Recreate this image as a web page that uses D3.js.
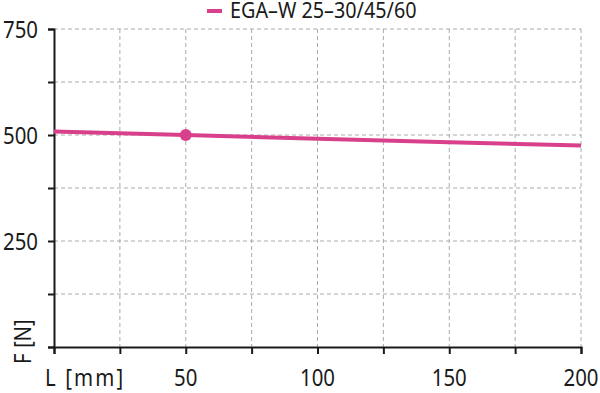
<!DOCTYPE html>
<html>
<head>
<meta charset="utf-8">
<script src="https://cdn.jsdelivr.net/npm/d3@7"></script>
<style>
  body { margin: 0; background: #fff; }
  svg { display: block; font-family: "Noto Sans", sans-serif; }
</style>
</head>
<body>
<svg width="600" height="393"></svg>
<script>
const lengths = [0, 50, 100, 150, 200];
const forces = [508, 500, 491, 483, 475];
const markerL = [50];
const markerF = [500];
const seriesName = "EGA\u2013W 25\u201330/45/60";
const xTicks = [0, 25, 50, 75, 100, 125, 150, 175, 200];
const yTicks = [0, 125, 250, 375, 500, 625, 750];
const xLabels = [50, 100, 150, 200];
const yLabels = [250, 500, 750];

const pink = "#d9408c";
const ink = "#1a1a1a";
const squeeze = 0.85;   // the original face is narrower than Noto Sans
const svg = d3.select("svg");

const xScale = d3.scaleLinear().domain([0, 200]).range([54, 581]);
const yScale = d3.scaleLinear().domain([0, 750]).range([347, 29]);

// dashed grid
const grid = svg.append("g");
grid.selectAll(".vg").data(xTicks.slice(1)).enter().append("line")
    .attr("x1", d => xScale(d)).attr("x2", d => xScale(d))
    .attr("y1", yScale(750)).attr("y2", yScale(0))
    .attr("stroke", "#aaa").attr("stroke-width", 1).attr("stroke-dasharray", "4,3");
grid.selectAll(".hg").data(yTicks.slice(1)).enter().append("line")
    .attr("x1", xScale(0)).attr("x2", xScale(200))
    .attr("y1", d => yScale(d)).attr("y2", d => yScale(d))
    .attr("stroke", "#aaa").attr("stroke-width", 1).attr("stroke-dasharray", "4,3");

// axes
const xAxis = svg.append("g")
    .attr("transform", `translate(0,${yScale(0)})`)
    .call(d3.axisBottom(xScale).tickValues(xTicks).tickSize(7).tickFormat(""));
const yAxis = svg.append("g")
    .attr("transform", `translate(${xScale(0)},0)`)
    .call(d3.axisLeft(yScale).tickValues(yTicks).tickSize(6).tickFormat(""));
[xAxis, yAxis].forEach(a => {
    a.select(".domain").attr("stroke", ink).attr("stroke-width", 2);
    a.selectAll(".tick line").attr("stroke", ink).attr("stroke-width", 2);
});

// tick labels
svg.selectAll(".xl").data(xLabels).enter().append("text")
    .attr("transform", d => `translate(${xScale(d)},386) scale(${squeeze},1)`)
    .attr("text-anchor", "middle").attr("font-size", 24).attr("fill", ink)
    .text(d => d);
svg.selectAll(".yl").data(yLabels).enter().append("text")
    .attr("transform", d => `translate(38,${yScale(d) + 8.5}) scale(${squeeze},1)`)
    .attr("text-anchor", "end").attr("font-size", 24).attr("fill", ink)
    .text(d => d);

// axis titles
svg.append("text")
    .attr("transform", `translate(45,386) scale(${squeeze},1)`)
    .attr("font-size", 24).attr("fill", ink)
    .attr("textLength", 92).attr("lengthAdjust", "spacing")
    .text("L [mm]");
svg.append("text")
    .attr("transform", `translate(31,364) rotate(-90) scale(${squeeze},1)`)
    .attr("font-size", 24).attr("fill", ink)
    .text("F [N]");

// series
const line = d3.line()
    .x((d, i) => xScale(lengths[i]))
    .y(d => yScale(d));
svg.append("path")
    .datum(forces)
    .attr("d", line)
    .attr("fill", "none")
    .attr("stroke", pink)
    .attr("stroke-width", 4);
svg.selectAll(".dot").data(markerL).enter().append("circle")
    .attr("cx", d => xScale(d)).attr("cy", (d, i) => yScale(markerF[i]))
    .attr("r", 6).attr("fill", pink);

// legend
svg.append("line")
    .attr("x1", 207).attr("x2", 222).attr("y1", 11).attr("y2", 11)
    .attr("stroke", pink).attr("stroke-width", 4);
svg.append("text")
    .attr("transform", "translate(230,18) scale(0.9,1)")
    .attr("font-size", 22).attr("fill", ink)
    .text(seriesName);
</script>
</body>
</html>
